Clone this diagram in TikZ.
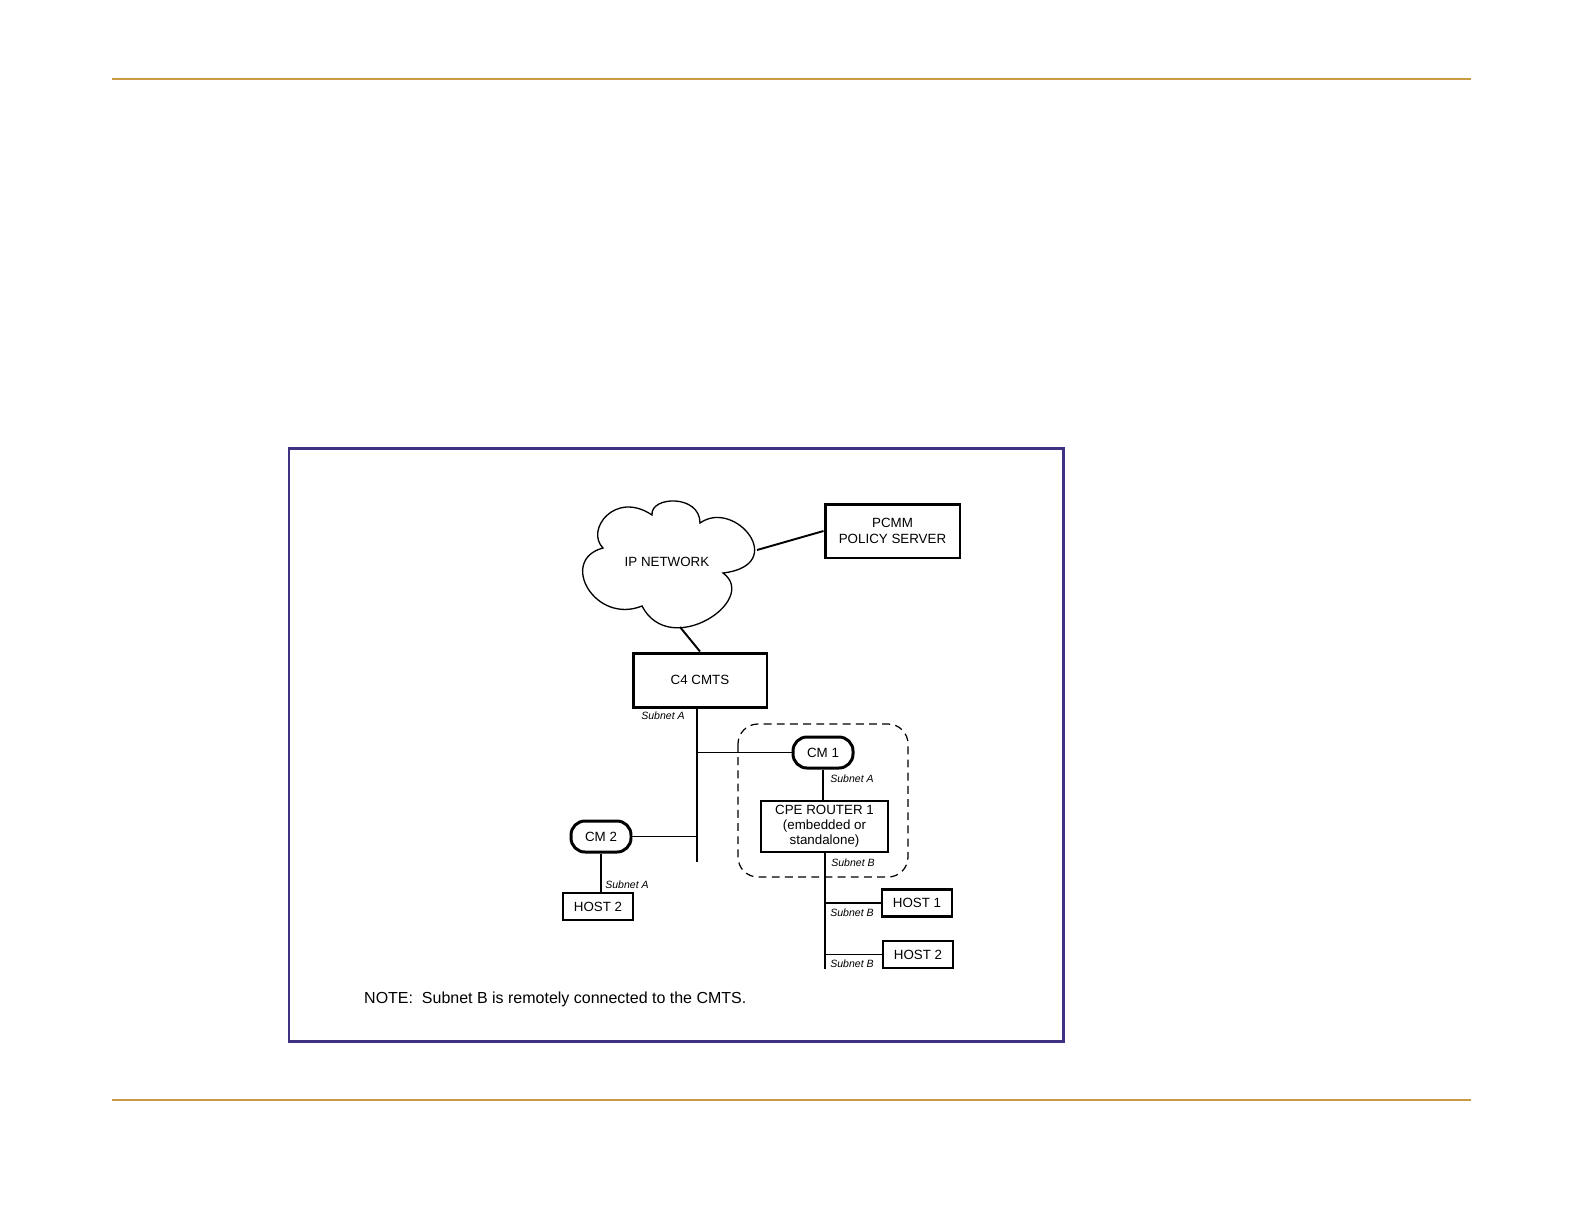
\documentclass[tikz,border=0pt]{standalone}
\usepackage{fontspec}
\setmainfont{Liberation Sans}
\usepackage{tikz}
\usetikzlibrary{positioning,calc}
\definecolor{rulegold}{HTML}{C99A44}
\definecolor{framepurple}{HTML}{3D3282}

\begin{document}
\begin{tikzpicture}[x=0.02cm,y=-0.02cm,
  font=\fontsize{7.6}{9}\selectfont,
  box/.style={draw,line width=1.7pt,align=center,inner sep=1pt},
  hostbox/.style={draw,line width=1.3pt,minimum width=1.4cm,minimum height=0.54cm,inner sep=1pt},
  modem/.style={draw,line width=1.7pt,rounded corners=0.28cm,minimum width=1.2cm,minimum height=0.62cm,inner sep=1pt},
  wire/.style={line width=1.1pt},
  sublbl/.style={font=\fontsize{6}{7}\selectfont\itshape,inner sep=0pt}]
\useasboundingbox (0,0) rectangle (1584,1224);
% page rules and figure frame
\draw[rulegold,line width=0.8pt] (112,79) -- (1471,79);
\draw[rulegold,line width=0.8pt] (112,1100) -- (1471,1100);
\draw[framepurple,line width=1.7pt] (289,448) rectangle (1063,1041);
% core
\draw[line width=0.75pt] (652,515) .. controls (650,496) and (700,494) .. (700,523)
  .. controls (735,498) and (790,565) .. (723,573)
  .. controls (760,600) and (670,660) .. (642,606)
  .. controls (595,625) and (558,560) .. (603,548)
  .. controls (585,530) and (615,490) .. cycle;
\coordinate (ipnetE) at (757,550);
\coordinate (ipnetS) at (680,627);
\node (ipnet) at (667,562) {IP NETWORK};
\node[box,minimum width=2.7cm,minimum height=1.08cm] (pcmm) at (892.5,531) {PCMM\\POLICY SERVER};
\node[box,minimum width=2.68cm,minimum height=1.08cm] (cmts) at (700,680) {C4 CMTS};
\coordinate (busEnd) at (697,862);
% subscriber side
\node[modem] (cm1) at (823,752.5) {CM 1};
\node[box,line width=1.4pt,minimum width=2.54cm,minimum height=1.02cm,
      font=\fontsize{7.6}{8.6}\selectfont] (cpe) at (824.5,826.5) {CPE ROUTER 1\\(embedded or\\standalone)};
\node[modem] (cm2) at (601,836.5) {CM 2};
\node[hostbox] (hostL) at (598,906.5) {HOST 2};
\node[hostbox] (hostA) at (917,903) {HOST 1};
\node[hostbox] (hostB) at (918,954.5) {HOST 2};
\coordinate (subEnd) at (825,969);
\draw[dashed,dash pattern=on 4.5pt off 3pt,line width=0.7pt,rounded corners=0.4cm] (738,724) rectangle (908,877);
% links
\draw[wire] (ipnetE) -- (pcmm.west);
\draw[wire] (ipnetS) -- (cmts.north);
\draw[wire] (cmts.south -| busEnd) -- (busEnd);
\draw[wire] (cm1.west -| busEnd) -- (cm1.west);
\draw[wire] (cm2.east) -- (cm2.east -| busEnd);
\draw[wire] (cm1.south) -- (cm1.south |- cpe.north);
\draw[wire] (cm2.south) -- (cm2.south |- hostL.north);
\draw[wire] (cpe.south -| subEnd) -- (subEnd);
\draw[wire] (hostA.west -| subEnd) -- (hostA.west);
\draw[wire] (hostB.west -| subEnd) -- (hostB.west);
% subnet labels
\node[sublbl] (sa0) at (663,716) {Subnet A};
\node[sublbl] (sa1) at (852,779) {Subnet A};
\node[sublbl] (sb0) at (853,863) {Subnet B};
\node[sublbl] (sa2) at (627,885) {Subnet A};
\node[sublbl] (sb1) at (852,913) {Subnet B};
\node[sublbl] (sb2) at (852,964) {Subnet B};
\node[anchor=west,font=\fontsize{9.1}{11}\selectfont] (note) at (358,999) {NOTE:\ \ Subnet B is remotely connected to the CMTS.};
\end{tikzpicture}
\end{document}
